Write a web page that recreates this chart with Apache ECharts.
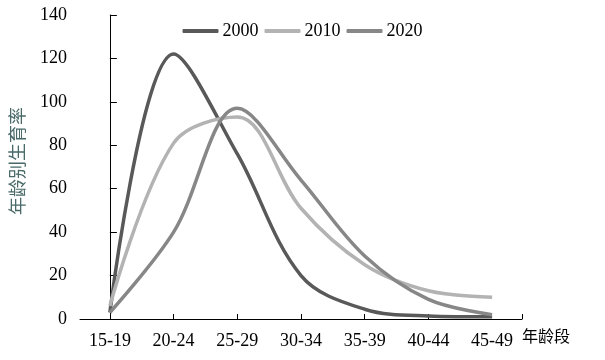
<!DOCTYPE html>
<html><head><meta charset="utf-8">
<script src="https://cdn.jsdelivr.net/npm/echarts@6/dist/echarts.min.js"></script>
<style>html,body{margin:0;padding:0;background:#fff}#c{width:605px;height:360px}</style>
</head><body><div id="c"></div>
<script>
const categories = ['15-19','20-24','25-29','30-34','35-39','40-44','45-49'];
const s2000 = [3, 122, 76, 20, 4.5, 1.4, 1];
const s2010 = [6, 81, 93, 51, 25, 13, 10];
const s2020 = [3, 40, 97, 64, 29, 9, 2];
const yTicks = [0, 20, 40, 60, 80, 100, 120, 140];
const names = ['2000','2010','2020'];
const colors = ['#595959','#b3b3b3','#878787'];

const toPairs = arr => arr.map((v, i) => [i, v]);
const chart = echarts.init(document.getElementById('c'));
const serif = '"Liberation Serif","Times New Roman",serif';
const xMin = -0.469, xMax = categories.length - 1 + 0.469;
chart.setOption({
  animation: false,
  legend: {
    data: names,
    top: 17, left: 'center',
    itemWidth: 36, itemHeight: 4, itemGap: 6,
    icon: 'roundRect',
    textStyle: { fontFamily: serif, fontSize: 18, color: '#000', padding: [0,0,0,-1] }
  },
  grid: { left: 78, right: 83, top: 15, bottom: 41 },
  xAxis: {
    type: 'value', min: xMin, max: xMax,
    name: '年龄段', nameLocation: 'end', nameGap: 0,
    nameTextStyle: { fontFamily: '"Noto Sans CJK SC"', fontSize: 16, color: '#000',
      align: 'left', verticalAlign: 'top', padding: [9, 0, 0, 0] },
    axisLine: { show: true, lineStyle: { color: '#000', width: 1 } },
    axisTick: { show: true, inside: true, length: 5, lineStyle: { color: '#000' },
      customValues: [1, 2, 3, 4, 5, xMax] },
    axisLabel: { customValues: categories.map((c, i) => i), formatter: v => categories[Math.round(v)],
      fontFamily: serif, fontSize: 18, color: '#000', margin: 13 },
    splitLine: { show: false }
  },
  yAxis: {
    type: 'value', min: yTicks[0], max: yTicks[yTicks.length-1], interval: 20,
    name: '年龄别生育率', nameLocation: 'middle', nameGap: 54, nameRotate: 90,
    nameTextStyle: { fontFamily: '"Noto Sans CJK SC"', fontSize: 18, color: '#4a6a6a', padding: [0, 0, 0, 12] },
    axisLine: { show: true, lineStyle: { color: '#000', width: 1 } },
    axisTick: { show: true, inside: true, length: 7, lineStyle: { color: '#000' } },
    axisLabel: { fontFamily: serif, fontSize: 18, color: '#000', margin: 13 },
    splitLine: { show: false }
  },
  series: [s2000, s2010, s2020].map((d, k) => ({
    name: names[k], type: 'line', smooth: 0.35, showSymbol: false,
    data: toPairs(d), color: colors[k],
    lineStyle: { width: 3.5, color: colors[k] }
  }))
});
</script></body></html>
